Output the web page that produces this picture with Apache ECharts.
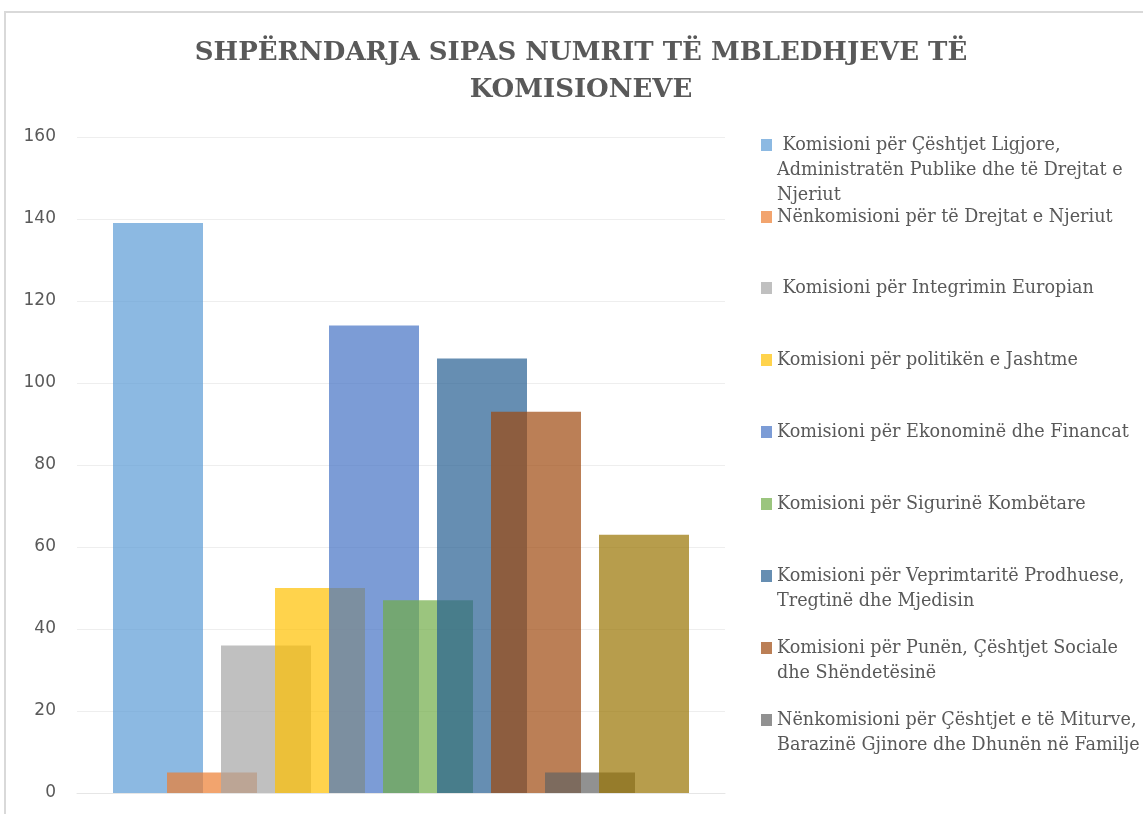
<!DOCTYPE html>
<html>
<head>
<meta charset="utf-8">
<script src="https://cdn.jsdelivr.net/npm/echarts@6/dist/echarts.min.js"></script>
<style>html,body{margin:0;padding:0;background:#fff}#c{width:1143px;height:814px}</style>
</head>
<body>
<div id="c"></div>
<script>
const titleText = 'SHPËRNDARJA SIPAS NUMRIT TË MBLEDHJEVE TË\nKOMISIONEVE';
const categories = [''];
const seriesNames = [
  'Komisioni për Çështjet Ligjore, Administratën Publike dhe të Drejtat e Njeriut',
  'Nënkomisioni për të Drejtat e Njeriut',
  'Komisioni për Integrimin Europian',
  'Komisioni për politikën e Jashtme',
  'Komisioni për Ekonominë dhe Financat',
  'Komisioni për Sigurinë Kombëtare',
  'Komisioni për Veprimtaritë Prodhuese, Tregtinë dhe Mjedisin',
  'Komisioni për Punën, Çështjet Sociale dhe Shëndetësinë',
  'Nënkomisioni për Çështjet e të Miturve, Barazinë Gjinore dhe Dhunën në Familje',
  'Komisioni 10'
];
const legendLines = [
  [' Komisioni për Çështjet Ligjore,', 'Administratën Publike dhe të Drejtat e', 'Njeriut'],
  ['Nënkomisioni për të Drejtat e Njeriut'],
  [' Komisioni për Integrimin Europian'],
  ['Komisioni për politikën e Jashtme'],
  ['Komisioni për Ekonominë dhe Financat'],
  ['Komisioni për Sigurinë Kombëtare'],
  ['Komisioni për Veprimtaritë Prodhuese,', 'Tregtinë dhe Mjedisin'],
  ['Komisioni për Punën, Çështjet Sociale', 'dhe Shëndetësinë'],
  ['Nënkomisioni për Çështjet e të Miturve,', 'Barazinë Gjinore dhe Dhunën në Familje']
];
const values = [139, 5, 36, 50, 114, 47, 106, 93, 5, 63];
const colors = ['#5B9BD5','#ED7D31','#A5A5A5','#FFC000','#4472C4','#70AD47','#255E91','#9E480E','#636363','#997300'];
const yTicks = {min: 0, max: 160, interval: 20};

const legendCenters = [145, 217, 288, 360, 432, 504, 576, 648, 720];
const LH = 25;

const chart = echarts.init(document.getElementById('c'), null, {renderer: 'canvas'});

const legends = legendLines.map((lines, i) => {
  const n = lines.length;
  const pre = new Array(n - 1).fill(' ');
  return {
    show: true,
    orient: 'vertical',
    left: 761,
    top: legendCenters[i] - (2 * n - 1) * LH / 2,
    padding: 0,
    itemWidth: 11,
    itemHeight: 12,
    icon: 'rect',
    selectedMode: false,
    data: [seriesNames[i]],
    formatter: () => pre.concat(lines).join('\n'),
    textStyle: {
      fontFamily: 'DejaVu Serif',
      fontSize: 17.6,
      color: '#595959',
      lineHeight: LH
    }
  };
});

const series = values.map((v, i) => ({
  type: 'bar',
  name: seriesNames[i],
  data: [v],
  barWidth: 90,
  barGap: '-40%',
  itemStyle: {color: colors[i], opacity: 0.7},
  emphasis: {disabled: true}
}));

chart.setOption({
  animation: false,
  backgroundColor: '#fff',
  title: {
    text: titleText,
    left: 576,
    top: 30,
    textAlign: 'center',
    textStyle: {
      fontFamily: 'DejaVu Serif',
      fontWeight: 'bold',
      fontSize: 26,
      color: '#595959',
      lineHeight: 37
    }
  },
  graphic: [{
    type: 'rect',
    shape: {x: 5, y: 12, width: 1300, height: 1000},
    style: {fill: null, stroke: '#D9D9D9', lineWidth: 2},
    silent: true,
    z: -1
  }],
  legend: legends,
  grid: {left: 77, right: 418, top: 137, bottom: 21, containLabel: false},
  xAxis: {
    type: 'category',
    data: categories,
    axisLine: {show: true, lineStyle: {color: '#E6E6E6'}},
    axisTick: {show: false},
    axisLabel: {show: false}
  },
  yAxis: {
    type: 'value',
    min: yTicks.min,
    max: yTicks.max,
    interval: yTicks.interval,
    axisLine: {show: false},
    axisTick: {show: false},
    splitLine: {lineStyle: {color: '#EEEEEE', width: 1}},
    axisLabel: {
      margin: 21,
      fontFamily: 'DejaVu Sans',
      fontSize: 17,
      color: '#595959'
    }
  },
  series: series
});
</script>
</body>
</html>
